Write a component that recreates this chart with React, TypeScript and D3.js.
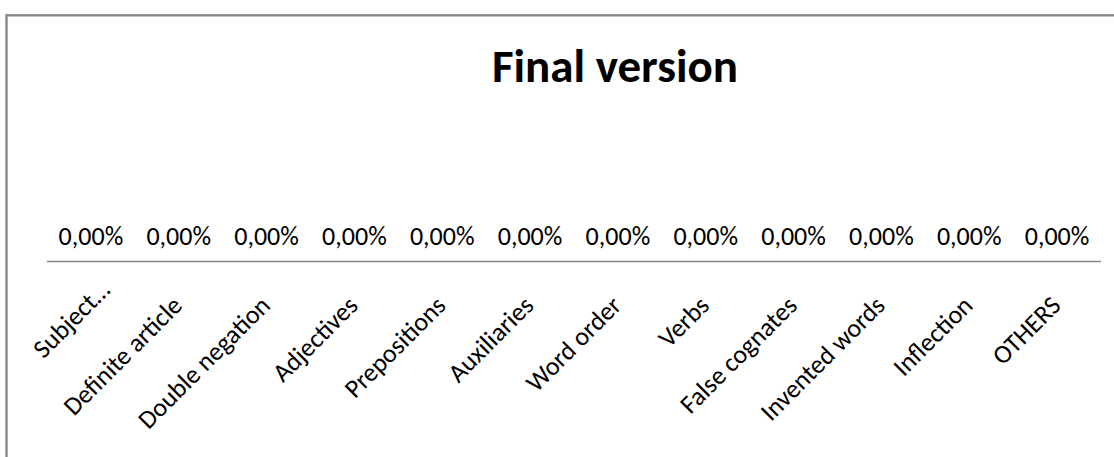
import React from "react";
import * as d3 from "d3";

// Error categories and their share of the final version
const categories = [
  "Subject…",
  "Definite article",
  "Double negation",
  "Adjectives",
  "Prepositions",
  "Auxiliaries",
  "Word order",
  "Verbs",
  "False cognates",
  "Invented words",
  "Inflection",
  "OTHERS",
];
const shares = [0, 0, 0, 0, 0, 0, 0, 0, 0, 0, 0, 0];
const chartTitle = "Final version";

const W = 1114;
const H = 457;
const FONT = "Carlito, Calibri, 'Open Sans', sans-serif";

const euroLocale = d3.formatLocale({
  decimal: ",",
  thousands: ".",
  grouping: [3],
  currency: ["", " €"],
});
const pct = euroLocale.format(".2%");

export default function App() {
  const x = d3.scaleBand<string>().domain(categories).range([47, 1101]).padding(0);
  const y = d3.scaleLinear().domain([0, 1]).range([261, 110]);
  const axisY = y(0);

  return (
    <svg
      width={W}
      height={H}
      style={{ position: "absolute", left: 0, top: 0, display: "block", background: "#fff" }}
      fontFamily={FONT}
    >
      {/* chart frame, running past the right and bottom edges */}
      <rect x={6.5} y={15.3} width={1212} height={520} fill="#fff" stroke="#888888" strokeWidth={2.4} />

      <text x={615} y={82} textAnchor="middle" fontSize={47} fontWeight="bold" fill="#000">
        {chartTitle}
      </text>

      {/* bars */}
      {categories.map((c, i) => (
        <rect
          key={"bar" + c}
          x={x(c)! + x.bandwidth() * 0.2}
          width={x.bandwidth() * 0.6}
          y={y(shares[i])}
          height={axisY - y(shares[i])}
          fill="#4f81bd"
        />
      ))}

      {/* data labels */}
      {categories.map((c, i) => (
        <text
          key={"lbl" + c}
          x={x(c)! + x.bandwidth() / 2}
          y={y(shares[i]) - 16}
          textAnchor="middle"
          fontSize={26}
          fill="#000"
        >
          {pct(shares[i])}
        </text>
      ))}

      {/* category axis */}
      <line x1={47} x2={1101} y1={axisY + 0.5} y2={axisY + 0.5} stroke="#868686" strokeWidth={1.3} />

      {categories.map((c) => {
        const cx = x(c)! + x.bandwidth() / 2 + 5;
        const cy = axisY + 46;
        const shift = c.endsWith("…") ? 22 : 0;
        return (
          <text
            key={"cat" + c}
            transform={`translate(${cx},${cy}) rotate(-45)`}
            x={shift}
            textAnchor="end"
            fontSize={26}
            fill="#000"
          >
            {c}
          </text>
        );
      })}
    </svg>
  );
}
